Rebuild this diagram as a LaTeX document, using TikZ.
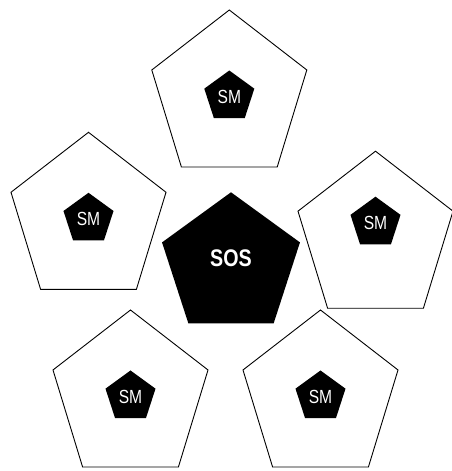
\documentclass[tikz,border=0pt]{standalone}
\usepackage{fontspec}
\newfontfamily\condfont{Liberation Sans}[FakeStretch=0.82]
\usetikzlibrary{shapes.geometric}

\begin{document}
\begin{tikzpicture}[x=1pt, y=1pt]
    \tikzset{
    shell/.style=
    {
        regular polygon,
        regular polygon sides=5,
        draw,
        line width=0.9pt,
        minimum size=163pt,
        inner sep=0pt,
        yscale=1.065,
        transform shape
    },
    member/.style=
    {
        regular polygon,
        regular polygon sides=5,
        fill=black,
        text=white,
        minimum size=52.6pt,
        inner sep=0pt,
        font=\condfont\fontsize{19}{19}\selectfont
    },
    core/.style=
    {
        regular polygon,
        regular polygon sides=5,
        fill=black,
        minimum size=145pt,
        inner sep=0pt
    },
    corelabel/.style=
    {
        text=white,
        inner sep=0pt,
        font=\condfont\bfseries\fontsize{24}{24}\selectfont
    }
}
  \useasboundingbox (0,0) rectangle (452,471);

  % centres of the outer cells
  \coordinate (pTop) at (229.3,374.2);
  \coordinate (pLeft) at (88.5,251.9);
  \coordinate (pRight) at (375.5,233);
  \coordinate (pLowLeft) at (130.5,74.2);
  \coordinate (pLowRight) at (320.5,74.2);

  \node[core] (SOS) at (231,206.2) {};
  \node[corelabel] (SOStext) at ([yshift=6.5pt]SOS.center) {SOS};

  \node[shell] (Top) at (pTop) {};
  \node[shell] (Left) at (pLeft) {};
  \node[shell] (Right) at (pRight) {};
  \node[shell] (LowLeft) at (pLowLeft) {};
  \node[shell] (LowRight) at (pLowRight) {};

  \node[member] (SMtop) at (Top.center) {SM};
  \node[member] (SMleft) at (Left.center) {SM};
  \node[member] (SMright) at ([yshift=15pt]Right.center) {SM};
  \node[member] (SMlowleft) at (LowLeft.center) {SM};
  \node[member] (SMlowright) at (LowRight.center) {SM};

\end{tikzpicture}
\end{document}
